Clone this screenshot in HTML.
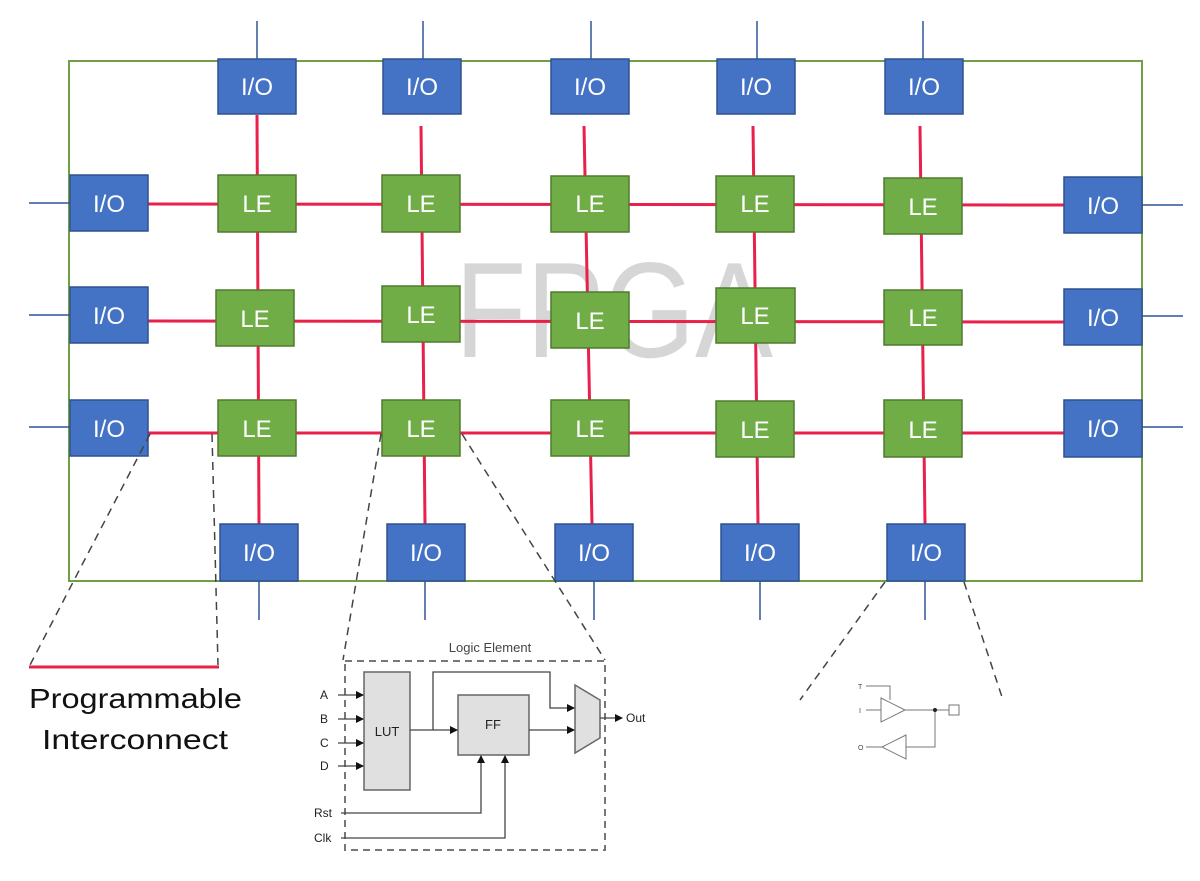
<!DOCTYPE html>
<html><head><meta charset="utf-8"><style>html,body{margin:0;padding:0;background:#fff}svg{display:block}</style></head>
<body>
<svg width="1200" height="881" viewBox="0 0 1200 881" xmlns="http://www.w3.org/2000/svg" font-family="Liberation Sans, sans-serif">
<rect width="1200" height="881" fill="#fff"/>
<!-- watermark -->
<text x="455" y="357" font-size="136" fill="#d6d6d6" textLength="318" lengthAdjust="spacingAndGlyphs">FPGA</text>
<!-- outer -->
<rect x="69" y="61" width="1073" height="520" fill="none" stroke="#70a045" stroke-width="2"/>
<!-- blue stubs -->
<g stroke="#2f5597" stroke-width="1.5">
<line x1="257" y1="21" x2="257" y2="60"/><line x1="423" y1="21" x2="423" y2="60"/><line x1="591" y1="21" x2="591" y2="60"/><line x1="757" y1="21" x2="757" y2="60"/><line x1="923" y1="21" x2="923" y2="60"/>
<line x1="29" y1="203" x2="70" y2="203"/><line x1="29" y1="315" x2="70" y2="315"/><line x1="29" y1="427" x2="70" y2="427"/>
<line x1="1142" y1="205" x2="1183" y2="205"/><line x1="1142" y1="316" x2="1183" y2="316"/><line x1="1142" y1="427" x2="1183" y2="427"/>
<line x1="259" y1="581" x2="259" y2="620"/><line x1="425" y1="581" x2="425" y2="620"/><line x1="594" y1="581" x2="594" y2="620"/><line x1="760" y1="581" x2="760" y2="620"/><line x1="925" y1="581" x2="925" y2="620"/>
</g>
<!-- red interconnect -->
<g stroke="#e8204a" stroke-width="3">
<line x1="148" y1="204" x2="1064" y2="205"/>
<line x1="148" y1="321" x2="1064" y2="322"/>
<line x1="148" y1="433" x2="1064" y2="433"/>
<line x1="257" y1="115" x2="259" y2="524"/>
<line x1="421" y1="126" x2="425" y2="524"/>
<line x1="584" y1="126" x2="592" y2="524"/>
<line x1="753" y1="126" x2="758" y2="524"/>
<line x1="920" y1="126" x2="925" y2="524"/>
</g>
<!-- I/O boxes -->
<g fill="#4472c4" stroke="#2f528f" stroke-width="1.5">
<rect x="218" y="59" width="78" height="55"/><rect x="383" y="59" width="78" height="55"/><rect x="551" y="59" width="78" height="55"/><rect x="717" y="59" width="78" height="55"/><rect x="885" y="59" width="78" height="55"/>
<rect x="70" y="175" width="78" height="56"/><rect x="70" y="287" width="78" height="56"/><rect x="70" y="400" width="78" height="56"/>
<rect x="1064" y="177" width="78" height="56"/><rect x="1064" y="289" width="78" height="56"/><rect x="1064" y="400" width="78" height="57"/>
<rect x="220" y="524" width="78" height="57"/><rect x="387" y="524" width="78" height="57"/><rect x="555" y="524" width="78" height="57"/><rect x="721" y="524" width="78" height="57"/><rect x="887" y="524" width="78" height="57"/>
</g>
<g fill="#fff" font-size="24" text-anchor="middle">
<text x="257" y="95">I/O</text><text x="422" y="95">I/O</text><text x="590" y="95">I/O</text><text x="756" y="95">I/O</text><text x="924" y="95">I/O</text>
<text x="109" y="212">I/O</text><text x="109" y="324">I/O</text><text x="109" y="437">I/O</text>
<text x="1103" y="214">I/O</text><text x="1103" y="326">I/O</text><text x="1103" y="437">I/O</text>
<text x="259" y="561">I/O</text><text x="426" y="561">I/O</text><text x="594" y="561">I/O</text><text x="760" y="561">I/O</text><text x="926" y="561">I/O</text>
</g>
<!-- LE boxes -->
<g fill="#70ad47" stroke="#4f7a2e" stroke-width="1.5">
<rect x="218" y="175" width="78" height="57"/><rect x="382" y="175" width="78" height="57"/><rect x="551" y="176" width="78" height="56"/><rect x="716" y="176" width="78" height="56"/><rect x="884" y="178" width="78" height="56"/>
<rect x="216" y="290" width="78" height="56"/><rect x="382" y="286" width="78" height="56"/><rect x="551" y="292" width="78" height="56"/><rect x="716" y="288" width="79" height="55"/><rect x="884" y="290" width="78" height="55"/>
<rect x="218" y="400" width="78" height="56"/><rect x="382" y="400" width="78" height="56"/><rect x="551" y="400" width="78" height="56"/><rect x="716" y="401" width="78" height="56"/><rect x="884" y="400" width="78" height="57"/>
</g>
<g fill="#fff" font-size="24" text-anchor="middle">
<text x="257" y="212">LE</text><text x="421" y="212">LE</text><text x="590" y="212">LE</text><text x="755" y="212">LE</text><text x="923" y="215">LE</text>
<text x="255" y="327">LE</text><text x="421" y="323">LE</text><text x="590" y="329">LE</text><text x="755" y="324">LE</text><text x="923" y="326">LE</text>
<text x="257" y="437">LE</text><text x="421" y="437">LE</text><text x="590" y="437">LE</text><text x="755" y="438">LE</text><text x="923" y="438">LE</text>
</g>
<!-- zoom dashed lines -->
<g stroke="#444" stroke-width="1.5" stroke-dasharray="8,6" fill="none">
<line x1="150" y1="434" x2="30" y2="665"/><line x1="212" y1="434" x2="218" y2="665"/>
<line x1="381" y1="434" x2="343" y2="660"/><line x1="462" y1="434" x2="605" y2="660"/>
<line x1="885" y1="582" x2="800" y2="700"/><line x1="964" y1="582" x2="1003" y2="700"/>
</g>
<line x1="29" y1="667" x2="219" y2="667" stroke="#e8204a" stroke-width="3"/>
<text x="29" y="708" font-size="28" fill="#111" textLength="213" lengthAdjust="spacingAndGlyphs">Programmable</text>
<text x="42" y="749" font-size="28" fill="#111" textLength="186" lengthAdjust="spacingAndGlyphs">Interconnect</text>
<!-- Logic element detail -->
<text x="490" y="652" font-size="13" fill="#444" text-anchor="middle">Logic Element</text>
<rect x="345" y="661" width="260" height="189" fill="none" stroke="#777" stroke-width="2" stroke-dasharray="7,5"/>
<defs><marker id="a" markerWidth="8" markerHeight="8" refX="7" refY="4" orient="auto" markerUnits="userSpaceOnUse"><path d="M0,0 L8,4 L0,8 z" fill="#111"/></marker></defs>
<rect x="364" y="672" width="46" height="118" fill="#e0e0e0" stroke="#666" stroke-width="1.5"/>
<text x="387" y="736" font-size="13" text-anchor="middle" fill="#222">LUT</text>
<rect x="458" y="695" width="71" height="60" fill="#e0e0e0" stroke="#666" stroke-width="1.5"/>
<text x="493" y="729" font-size="13" text-anchor="middle" fill="#222">FF</text>
<path d="M575,685 L600,700 L600,738 L575,753 Z" fill="#e0e0e0" stroke="#666" stroke-width="1.5"/>
<g stroke="#444" stroke-width="1.3" fill="none">
<line x1="338" y1="695" x2="363" y2="695" marker-end="url(#a)"/>
<line x1="338" y1="719" x2="363" y2="719" marker-end="url(#a)"/>
<line x1="338" y1="743" x2="363" y2="743" marker-end="url(#a)"/>
<line x1="338" y1="766" x2="363" y2="766" marker-end="url(#a)"/>
<line x1="410" y1="730" x2="457" y2="730" marker-end="url(#a)"/>
<polyline points="433,730 433,672 550,672 550,708 574,708" marker-end="url(#a)"/>
<line x1="529" y1="730" x2="574" y2="730" marker-end="url(#a)"/>
<line x1="600" y1="718" x2="622" y2="718" marker-end="url(#a)"/>
<polyline points="341,813 481,813 481,756" marker-end="url(#a)"/>
<polyline points="341,838 505,838 505,756" marker-end="url(#a)"/>
</g>
<g font-size="12" fill="#222">
<text x="320" y="699">A</text><text x="320" y="723">B</text><text x="320" y="747">C</text><text x="320" y="770">D</text>
<text x="314" y="817">Rst</text><text x="314" y="842">Clk</text><text x="626" y="722">Out</text>
</g>
<!-- I/O buffer -->
<g stroke="#777" stroke-width="1" fill="none">
<polyline points="866,686 890,686 890,700"/>
<line x1="866" y1="710" x2="881" y2="710"/>
<path d="M881,698 L905,710 L881,722 Z" fill="#fff"/>
<line x1="905" y1="710" x2="949" y2="710"/>
<rect x="949" y="705" width="10" height="10"/>
<polyline points="935,710 935,747 906,747"/>
<path d="M906,735 L882,747 L906,759 Z" fill="#fff"/>
<line x1="866" y1="747" x2="882" y2="747"/>
</g>
<circle cx="935" cy="710" r="2" fill="#222"/>
<g font-size="7" fill="#444"><text x="858" y="689">T</text><text x="859" y="713">I</text><text x="858" y="750">O</text></g>
</svg>
</body></html>
